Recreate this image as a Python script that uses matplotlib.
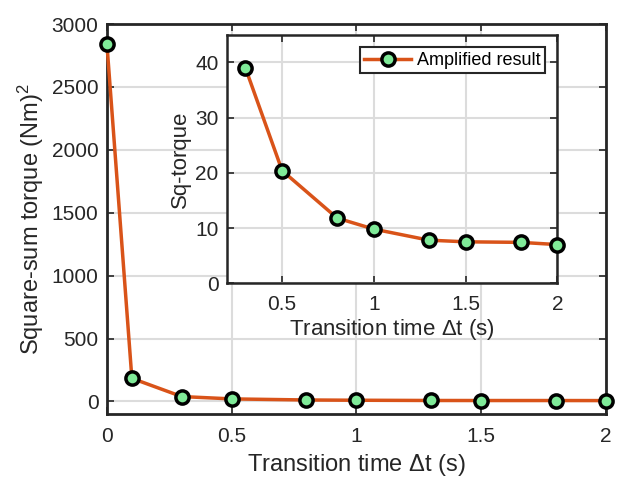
import matplotlib
matplotlib.use("Agg")
import matplotlib.pyplot as plt

plt.rcParams['font.family'] = ['Liberation Sans', 'DejaVu Sans']
plt.rcParams['mathtext.fontset'] = 'custom'
plt.rcParams['mathtext.rm'] = 'Liberation Sans'
plt.rcParams['mathtext.it'] = 'Liberation Sans'

# data
dt = [0.0, 0.1, 0.3, 0.5, 0.8, 1.0, 1.3, 1.5, 1.8, 2.0]
sq_torque = [2840, 184, 39.0, 20.4, 11.8, 9.8, 7.8, 7.5, 7.4, 7.0]
dt_zoom = dt[2:]
sq_zoom = sq_torque[2:]

main_xticks = [0, 0.5, 1, 1.5, 2]
main_xticklabels = ['0', '0.5', '1', '1.5', '2']
main_yticks = [0, 500, 1000, 1500, 2000, 2500, 3000]
inset_xticks = [0.5, 1, 1.5, 2]
inset_xticklabels = ['0.5', '1', '1.5', '2']
inset_yticks = [0, 10, 20, 30, 40]

line_color = '#D95319'
face_color = '#7FEA98'
spine_color = '#262626'
grid_color = '#DCDCDC'

def style_axes(ax, lw, xpad):
    for s in ax.spines.values():
        s.set_linewidth(lw)
        s.set_color(spine_color)
    ax.tick_params(direction='in', top=True, right=True, colors=spine_color,
                   width=1.2, length=5, pad=6)
    ax.tick_params(axis='x', pad=xpad)
    ax.grid(True, color=grid_color, linewidth=1.5)
    ax.set_axisbelow(True)

fig = plt.figure(figsize=(6.29, 4.9), dpi=100)

ax = fig.add_axes([0.170, 0.155, 0.793, 0.796])
ax.plot(dt, sq_torque, '-o', color=line_color, lw=2.5, ms=9.5,
        mfc=face_color, mec='black', mew=2.5, clip_on=False, zorder=3)
ax.set_xlim(0, 2)
ax.set_ylim(-100, 3000)
ax.set_xticks(main_xticks)
ax.set_xticklabels(main_xticklabels)
ax.set_yticks(main_yticks)
ax.tick_params(labelsize=15)
ax.set_xlabel('Transition time $\\Delta$t (s)', fontsize=17, color=spine_color,
              labelpad=4)
ax.set_ylabel('Square-sum torque (Nm)$^2$', fontsize=17, color=spine_color,
              labelpad=4)
style_axes(ax, 2.0, 9.5)

ins = fig.add_axes([0.361, 0.422, 0.525, 0.507])
ins.plot(dt_zoom, sq_zoom, '-o', color=line_color, lw=2.5, ms=9.5,
         mfc=face_color, mec='black', mew=2.5, clip_on=False, zorder=3,
         label='Amplified result')
ins.set_xlim(0.2, 2)
ins.set_ylim(0, 45)
ins.set_xticks(inset_xticks)
ins.set_xticklabels(inset_xticklabels)
ins.set_yticks(inset_yticks)
ins.tick_params(labelsize=15)
ins.set_xlabel('Transition time $\\Delta$t (s)', fontsize=16, color=spine_color,
               labelpad=2)
ins.set_ylabel('Sq-torque', fontsize=16, color=spine_color, labelpad=3)
style_axes(ins, 1.8, 8.5)
leg = ins.legend(loc='upper right', fontsize=13, fancybox=False,
                 edgecolor=spine_color, framealpha=1, handlelength=2.6,
                 borderpad=0.25, handletextpad=0.3, borderaxespad=0.7)
leg.get_frame().set_linewidth(1.5)

fig.savefig('out.png', dpi=100)
